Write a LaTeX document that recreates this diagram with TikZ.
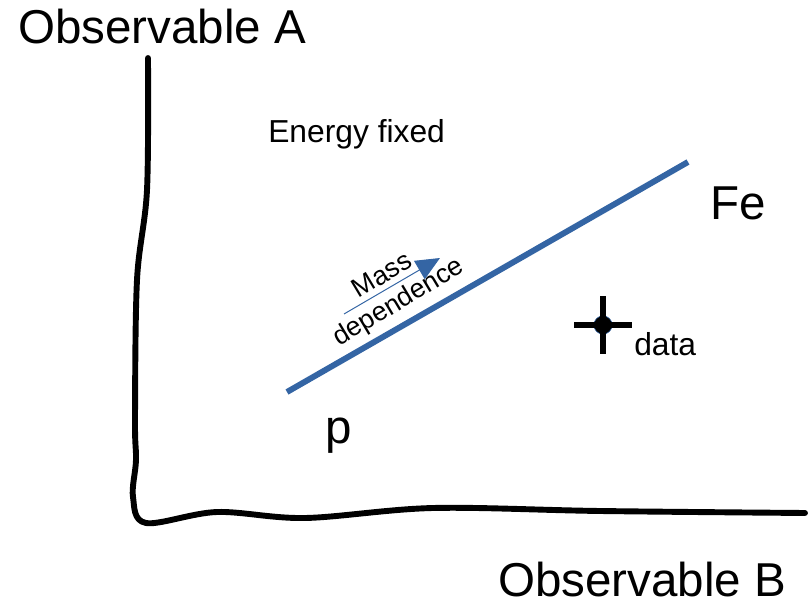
\documentclass[tikz,border=0pt]{standalone}
\usepackage{fontspec}
\setmainfont{Liberation Sans}
\usetikzlibrary{arrows.meta,positioning,calc}
\definecolor{massblue}{RGB}{52,101,164}

\begin{document}
\begin{tikzpicture}[
    x=0.025cm, y=-0.025cm,
    axis/.style={line width=4.2pt, black, line cap=round, line join=round},
    trend/.style={line width=4.2pt, massblue},
    bigtext/.style={font=\fontsize{33.8}{38}\selectfont, inner sep=0pt},
    midtext/.style={font=\fontsize{22.6}{26}\selectfont, inner sep=0pt},
    smalltext/.style={font=\fontsize{19}{22}\selectfont, inner sep=0pt, align=center},
    cross/.style={line width=3.6pt, black}
]
    \useasboundingbox (0,0) rectangle (812,605);

    % hand drawn axes
    \coordinate (atop) at (148,58);
    \coordinate (bend) at (805,513);
    \draw[axis] (atop) -- plot[smooth, tension=0.55] coordinates {(148,60) (147,190) (137,280) (135,420) (136,460) (133,497) (146,523) (217,512) (305,518) (433,508) (600,511) (805,513)};

    \node[bigtext, anchor=base west] (obsA) at (18,43) {Observable A};
    \node[bigtext, anchor=base west] (obsB) at (498,596) {Observable B};
    \node[midtext, anchor=base west] (efix) at (268,142) {Energy fixed};

    % mass line
    \coordinate (pend) at (287,392);
    \coordinate (feend) at (688,162);
    \draw[trend] (pend) -- (feend);
    \node[bigtext, anchor=base west] (fe) at (710,219) {Fe};
    \node[bigtext, anchor=base west] (p) at (325,443) {p};

    \coordinate (mfrom) at (344,314);
    \coordinate (mto) at (440,258);
    \draw[massblue, line width=0.7pt, -{Triangle[length=17pt, width=15pt]}] (mfrom) -- (mto);
    \node[smalltext, rotate=31] (mass) at (391,290) {Mass\\[0pt]dependence};

    % data point
    \node[circle, fill=black, draw=massblue, line width=0.4pt, minimum size=13pt, inner sep=0pt] (pt) at (603,325) {};
    \draw[cross] (pt.center) ++(-29,0) -- ++(58,0);
    \draw[cross] (pt.center) ++(0,-29) -- ++(0,58);
    \node[midtext, anchor=base west] (data) at (634,355) {data};
\end{tikzpicture}
\end{document}
